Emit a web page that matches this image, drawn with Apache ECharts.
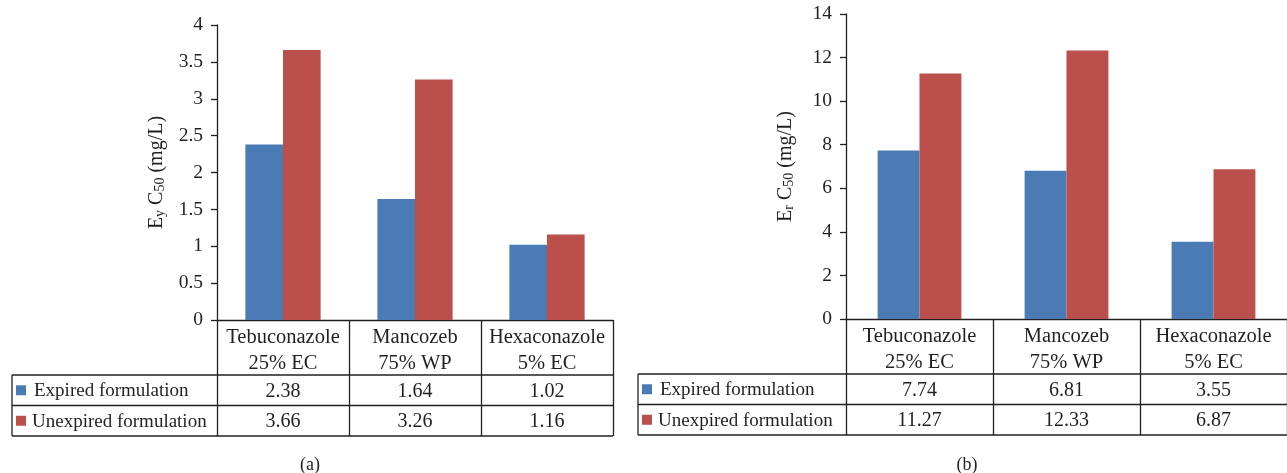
<!DOCTYPE html>
<html>
<head>
<meta charset="utf-8">
<script src="https://cdn.jsdelivr.net/npm/echarts@6/dist/echarts.min.js"></script>
<style>
  html, body { margin: 0; padding: 0; background: #fff; }
  #chart { width: 1287px; height: 473px; }
</style>
</head>
<body>
<div id="chart"></div>
<script>
// Fungicide formulations along the x axis
const categories = ['Tebuconazole\n25% EC', 'Mancozeb\n75% WP', 'Hexaconazole\n5% EC'];
const seriesNames = ['Expired formulation', 'Unexpired formulation'];

// Panel (a): EyC50 (mg/L)
const eyExpired = [2.38, 1.64, 1.02];
const eyUnexpired = [3.66, 3.26, 1.16];
const eyAxis = { min: 0, max: 4, interval: 0.5 };

// Panel (b): ErC50 (mg/L)
const erExpired = [7.74, 6.81, 3.55];
const erUnexpired = [11.27, 12.33, 6.87];
const erAxis = { min: 0, max: 14, interval: 2 };

const panelTags = ['(a)', '(b)'];

const FONT = 'Liberation Serif';
const INK = '#231f20';
const BLUE = '#4a7bb5';
const RED = '#ba4f4c';
const LINE_W = 1.3;

// Geometry of each panel: plot area plus the data table below it
const panels = [
  { left: 217, top: 25, width: 396, height: 295, tableLeft: 12, tag: 310, nameGap: 50,
    sub: 'y', expired: eyExpired, unexpired: eyUnexpired, axis: eyAxis },
  { left: 846, top: 14, width: 450, height: 305, tableLeft: 638, tag: 967, nameGap: 50,
    sub: 'r', expired: erExpired, unexpired: erUnexpired, axis: erAxis }
];
const HEADER_H = 55;   // header row (category names)
const ROW_H = 30.5;    // each value row

const grid = [], xAxis = [], yAxis = [], series = [], graphic = [];

panels.forEach((p, i) => {
  const axisY = p.top + p.height;
  const tableRight = p.left + p.width;
  grid.push({ left: p.left, top: p.top, width: p.width, height: p.height, containLabel: false });

  // Category axis: labels form the table header, boundary ticks form the column rules
  xAxis.push({
    type: 'category', gridIndex: i, data: categories, position: 'bottom',
    axisLine: { lineStyle: { color: INK, width: LINE_W } },
    axisTick: { show: true, alignWithLabel: false, length: HEADER_H + 2 * ROW_H,
                lineStyle: { color: INK, width: LINE_W } },
    axisLabel: { fontFamily: FONT, fontSize: 20.5, color: INK, lineHeight: 26, margin: 5,
                 interval: 0 },
    splitLine: { show: false }
  });
  // Value rows of the table, placed under the header by offset axes
  [p.expired, p.unexpired].forEach((vals, r) => {
    xAxis.push({
      type: 'category', gridIndex: i, data: categories, position: 'bottom',
      offset: HEADER_H + r * ROW_H,
      axisLine: { show: false }, axisTick: { show: false }, splitLine: { show: false },
      axisLabel: { fontFamily: FONT, fontSize: 20, color: INK, interval: 0,
                   margin: ROW_H / 2 + 1, verticalAlign: 'middle',
                   formatter: (v, idx) => vals[idx].toFixed(2) }
    });
  });

  yAxis.push({
    type: 'value', gridIndex: i, min: p.axis.min, max: p.axis.max, interval: p.axis.interval,
    name: '{m|E}{s|' + p.sub + '}{m| C}{s|50}{m| (mg/L)}',
    nameLocation: 'middle', nameRotate: 90, nameGap: p.nameGap,
    nameTextStyle: {
      color: INK, fontFamily: FONT, fontSize: 20,
      rich: {
        m: { fontFamily: FONT, fontSize: 20, color: INK, verticalAlign: 'bottom', lineHeight: 24 },
        s: { fontFamily: FONT, fontSize: 14, color: INK, verticalAlign: 'bottom', lineHeight: 19 }
      }
    },
    axisLine: { show: true, lineStyle: { color: INK, width: LINE_W } },
    axisTick: { show: true, length: 6, lineStyle: { color: INK, width: LINE_W } },
    axisLabel: { fontFamily: FONT, fontSize: 19.5, color: INK, margin: 14 },
    splitLine: { show: false }
  });

  const xBase = i * 3;
  series.push({
    name: seriesNames[0], type: 'bar', xAxisIndex: xBase, yAxisIndex: i,
    data: p.expired, itemStyle: { color: BLUE }, barGap: '0%', barCategoryGap: '43%',
    silent: true
  });
  series.push({
    name: seriesNames[1], type: 'bar', xAxisIndex: xBase, yAxisIndex: i,
    data: p.unexpired, itemStyle: { color: RED }, barGap: '0%', barCategoryGap: '43%',
    silent: true
  });

  // Table rules that reach left of the plot, under the row titles
  const rowTop = axisY + HEADER_H;
  for (let k = 0; k <= 2; k++) {
    const y = rowTop + k * ROW_H;
    graphic.push({ type: 'line', silent: true,
      shape: { x1: p.tableLeft, y1: y, x2: tableRight, y2: y },
      style: { stroke: INK, lineWidth: LINE_W } });
  }
  graphic.push({ type: 'line', silent: true,
    shape: { x1: p.tableLeft, y1: rowTop, x2: p.tableLeft, y2: rowTop + 2 * ROW_H },
    style: { stroke: INK, lineWidth: LINE_W } });

  // Row titles with colour keys
  [[seriesNames[0], BLUE, 22], [seriesNames[1], RED, 20]].forEach(([label, col, dx], r) => {
    const cy = rowTop + ROW_H * (r + 0.5);
    graphic.push({ type: 'rect', silent: true,
      shape: { x: p.tableLeft + 4, y: cy - 5, width: 10, height: 10 },
      style: { fill: col } });
    graphic.push({ type: 'text', silent: true, x: p.tableLeft + dx, y: cy + 1,
      style: { text: label, font: '19px "' + FONT + '"', fill: INK,
               textAlign: 'left', textVerticalAlign: 'middle' } });
  });

  graphic.push({ type: 'text', silent: true, x: p.tag, y: 465,
    style: { text: panelTags[i], font: '18px "' + FONT + '"', fill: INK,
             textAlign: 'center', textVerticalAlign: 'middle' } });
});

const chart = echarts.init(document.getElementById('chart'), null, { renderer: 'canvas' });
chart.setOption({
  backgroundColor: '#ffffff',
  animation: false,
  grid, xAxis, yAxis, series, graphic
});
</script>
</body>
</html>
